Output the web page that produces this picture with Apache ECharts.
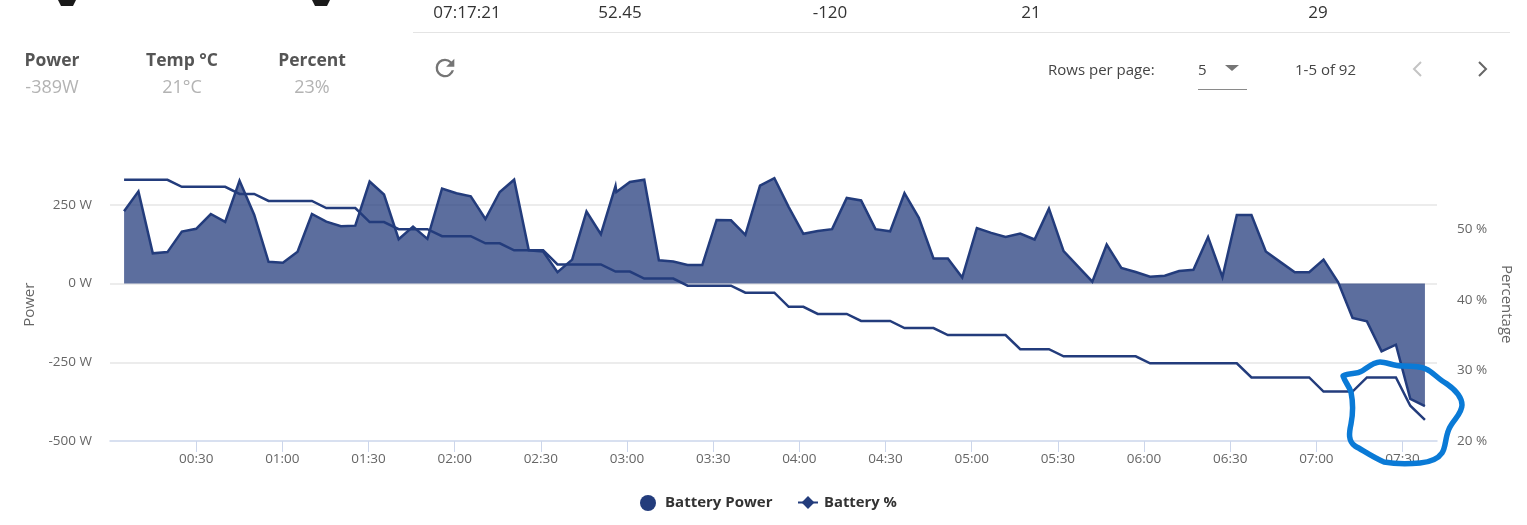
<!DOCTYPE html>
<html>
<head>
<meta charset="utf-8">
<script src="https://cdn.jsdelivr.net/npm/echarts@6/dist/echarts.min.js"></script>
<style>
html,body{margin:0;padding:0;background:#fff;overflow:hidden}
#chart{position:absolute;left:0;top:0;width:1527px;height:525px}
.t{position:absolute;font-family:"Open Sans",sans-serif;white-space:nowrap;line-height:1}
.c{transform:translateX(-50%)}
.head{font-size:17.5px;font-weight:700;color:#555;top:51px}
.val{font-size:18px;color:#b3b3b3;top:77px}
.cell{font-size:17px;color:#333;top:3px}
.pg{font-size:15px;color:#444;top:62px}
.hr{position:absolute;background:#e4e4e4}
svg{position:absolute}
</style>
</head>
<body>
<div id="chart"></div>

<svg style="left:54px;top:0" width="26" height="8"><path d="M4 0 H22 L19 6 H7 Z" fill="#1a1a1a"/></svg>
<svg style="left:308px;top:0" width="26" height="8"><path d="M4 0 H22 L19 6 H7 Z" fill="#1a1a1a"/></svg>

<div class="t c head" style="left:52px">Power</div>
<div class="t c val" style="left:52px">-389W</div>
<div class="t c head" style="left:182px">Temp °C</div>
<div class="t c val" style="left:182px">21°C</div>
<div class="t c head" style="left:312px">Percent</div>
<div class="t c val" style="left:312px">23%</div>

<div class="t c cell" style="left:467px">07:17:21</div>
<div class="t c cell" style="left:620px">52.45</div>
<div class="t c cell" style="left:830px">-120</div>
<div class="t c cell" style="left:1031px">21</div>
<div class="t c cell" style="left:1318px">29</div>
<div class="hr" style="left:413px;top:32px;width:1097px;height:1px"></div>

<svg style="left:431px;top:54px" width="28" height="28" viewBox="0 0 24 24"><path d="M17.65 6.35A7.96 7.96 0 0 0 12 4a8 8 0 1 0 7.73 10h-2.08A6 6 0 1 1 12 6c1.66 0 3.14.69 4.22 1.78L13 11h7V4l-2.35 2.35z" fill="#757575"/></svg>

<div class="t pg" style="left:1048px">Rows per page:</div>
<div class="t pg" style="left:1198px">5</div>
<svg style="left:1224px;top:64px" width="16" height="8"><path d="M1 1 H15 L8 7 Z" fill="#757575"/></svg>
<div class="hr" style="left:1198px;top:89px;width:49px;height:1px;background:#8a8a8a"></div>
<div class="t pg" style="left:1295px">1-5 of 92</div>
<svg style="left:1410px;top:60px" width="16" height="18"><path d="M11 2 L4 9 L11 16" fill="none" stroke="#c4c4c4" stroke-width="2"/></svg>
<svg style="left:1474px;top:60px" width="16" height="18"><path d="M5 2 L12 9 L5 16" fill="none" stroke="#666" stroke-width="2"/></svg>

<!-- Hand-drawn highlight over the last samples -->
<svg style="left:1330px;top:350px" width="145" height="125" viewBox="1330 350 145 125">
  <path d="M1343 376 C1350 372 1356 375 1362 371 C1368 367 1374 362 1380 362 C1387 362 1393 366 1403 366 C1412 366 1420 366 1426 369 C1433 372 1438 379 1447 384 C1454 389 1462 396 1462 405 C1462 414 1453 420 1449 429 C1445 438 1446 447 1442 453 C1438 459 1430 462 1420 463 C1408 464 1395 464 1384 462 C1374 458 1364 451 1355 446 C1348 441 1349 433 1351 424 C1353 414 1353 402 1351 392 C1349 386 1345 382 1343 376 Z"
        fill="none" stroke="#0a7ad6" stroke-width="5.5" stroke-linejoin="round"/>
</svg>

<script>
// Sample times, minutes after midnight
const sampleMinutes = [4.9,9.9,14.9,20.0,25.0,30.0,35.1,40.1,45.1,50.2,55.2,60.2,65.3,70.3,75.3,80.4,85.4,90.4,95.4,100.5,105.5,110.5,115.6,120.6,125.6,130.7,135.7,140.7,145.8,150.8,155.8,160.9,165.9,170.9,176.0,176.3,181.0,186.0,191.1,196.1,201.1,206.2,211.2,216.2,221.2,226.3,231.3,236.3,241.4,246.4,251.4,256.5,261.5,266.5,271.6,276.6,281.6,286.7,291.7,296.7,301.8,306.8,311.8,316.9,321.9,326.9,332.0,337.0,342.0,347.0,352.1,357.1,362.1,367.2,372.2,377.2,382.3,387.3,392.3,397.4,402.4,407.4,412.5,417.5,422.5,427.6,432.6,437.6,442.7,447.7,452.7,457.8];

// Battery power, W
const batteryPower = [230,293,96,100,165,174,221,196,327,219,69,66,101,221,197,182,184,324,283,141,181,142,302,287,277,205,291,330,106,102,36,76,229,157,310,291,323,330,74,70,59,59,202,201,155,311,335,243,158,167,173,272,264,173,166,287,209,80,80,19,176,161,148,159,140,238,103,55,6,124,50,37,22,25,40,44,148,21,218,218,102,69,36,36,76,4,-109,-120,-215,-194,-366,-389];

// Battery charge, %
const batteryPercent = [57,57,57,57,56,56,56,56,55,55,54,54,54,54,53,53,53,51,51,50,50,50,49,49,49,48,48,47,47,47,45,45,45,45,44,44,44,43,43,43,42,42,42,42,41,41,41,39,39,38,38,38,37,37,37,36,36,36,35,35,35,35,35,33,33,33,32,32,32,32,32,32,31,31,31,31,31,31,31,29,29,29,29,29,27,27,27,29,29,29,25,23];

const tickMinutes = [30,60,90,120,150,180,210,240,270,300,330,360,390,420,450];
const tickLabels = ['00:30','01:00','01:30','02:00','02:30','03:00','03:30','04:00','04:30','05:00','05:30','06:00','06:30','07:00','07:30'];

const FONT = '"Open Sans", sans-serif';
const NAVY = '#233c7c';
const pair = arr => arr.map((v, i) => [sampleMinutes[i], v]);

const chart = echarts.init(document.getElementById('chart'), null, {renderer: 'canvas'});
chart.setOption({
  animation: false,
  backgroundColor: '#fff',
  textStyle: {fontFamily: FONT},
  grid: {left: 110, right: 90, top: 173.4, bottom: 84},
  legend: [
    {data: [{name: 'Battery Power', icon: 'circle'}], left: 635, top: 490, itemWidth: 16, itemHeight: 16, itemGap: 0,
     textStyle: {fontFamily: FONT, fontSize: 15, fontWeight: 700, color: '#333', padding: [0, 0, 0, 4]}},
    {data: ['Battery %'], left: 792, top: 490, itemWidth: 20, itemHeight: 16,
     textStyle: {fontFamily: FONT, fontSize: 14.8, fontWeight: 700, color: '#333', padding: [0, 0, 0, 1]}}
  ],
  xAxis: {
    type: 'value', min: 0, max: 462,
    splitLine: {show: false},
    axisLine: {onZero: false, lineStyle: {color: '#ccd6eb', width: 1.5}},
    axisTick: {length: 11, customValues: tickMinutes, lineStyle: {color: '#ccd6eb'}},
    axisLabel: {
      customValues: tickMinutes, margin: 11, color: '#666', fontSize: 13.5, fontFamily: FONT,
      formatter: v => tickLabels[tickMinutes.indexOf(v)] || ''
    }
  },
  yAxis: [
    {
      type: 'value', min: -500, max: 350, interval: 250,
      name: 'Power', nameLocation: 'middle', nameGap: 72, nameRotate: 90,
      nameTextStyle: {color: '#666', fontSize: 15, fontFamily: FONT, padding: [0, 0, 0, 5]},
      axisLine: {show: false}, axisTick: {show: false},
      splitLine: {show: true, showMinLine: false, showMaxLine: false, lineStyle: {color: '#e6e6e6', width: 1.5}},
      axisLabel: {showMaxLabel: false, margin: 18, color: '#666', fontSize: 13.5, fontFamily: FONT, formatter: '{value} W'}
    },
    {
      type: 'value', min: 20, max: 57.9, interval: 10, position: 'right',
      name: 'Percentage', nameLocation: 'middle', nameGap: 62, nameRotate: -90,
      nameTextStyle: {color: '#666', fontSize: 15, fontFamily: FONT, padding: [8, 6, 0, 0]},
      axisLine: {show: false}, axisTick: {show: false}, splitLine: {show: false},
      axisLabel: {showMaxLabel: false, margin: 20, color: '#666', fontSize: 13.5, fontFamily: FONT, formatter: '{value} %'}
    }
  ],
  series: [
    {
      name: 'Battery Power', type: 'line', yAxisIndex: 0, data: pair(batteryPower),
      showSymbol: false, symbol: 'circle', smooth: false,
      itemStyle: {color: NAVY},
      lineStyle: {color: NAVY, width: 2.5, join: 'miter'},
      areaStyle: {color: NAVY, opacity: 0.74}
    },
    {
      name: 'Battery %', type: 'line', yAxisIndex: 1, data: pair(batteryPercent),
      showSymbol: false, symbol: 'diamond', symbolSize: 9, smooth: false,
      itemStyle: {color: NAVY},
      lineStyle: {color: NAVY, width: 2.5, join: 'miter'}
    }
  ]
});
</script>
</body>
</html>
